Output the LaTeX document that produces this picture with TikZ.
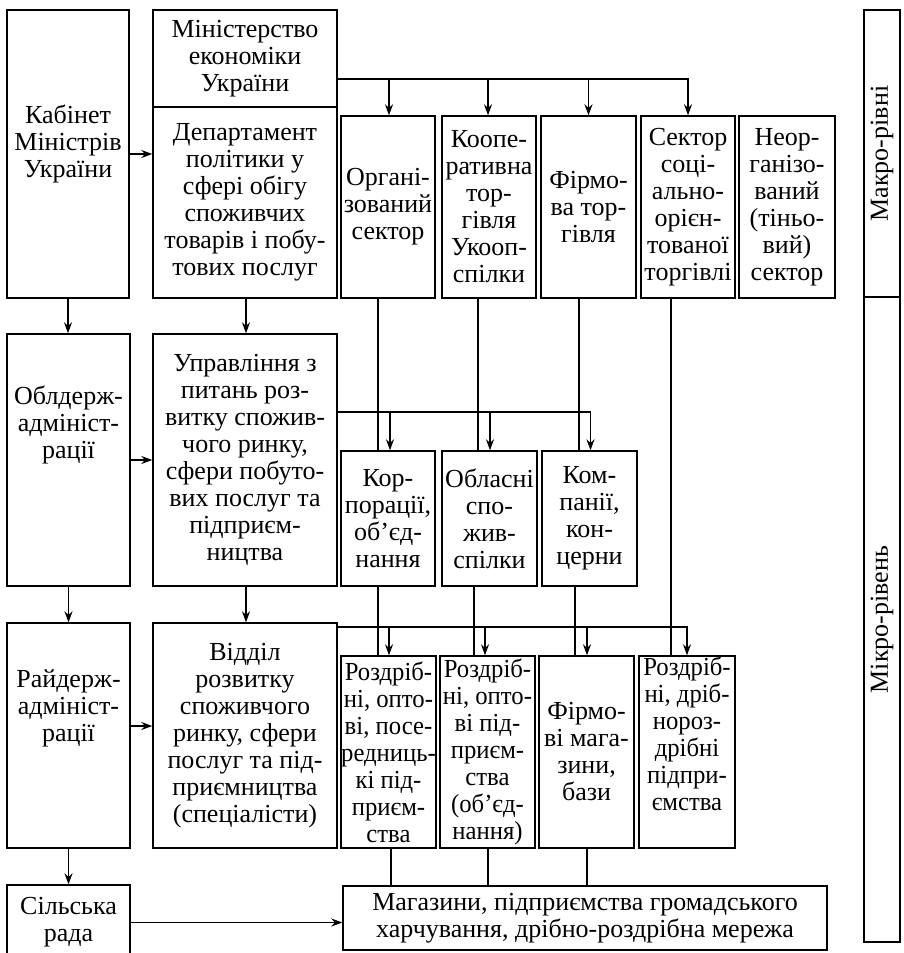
\documentclass[tikz,border=0pt]{standalone}
\usepackage{fontspec}
\setmainfont{Liberation Serif}
\newfontfamily\narrowserif[FakeStretch=0.95]{Liberation Serif}
\usetikzlibrary{arrows.meta,calc}
\tikzset{
  box/.style={draw, line width=1.4pt, align=center, inner sep=0pt,
    font=\fontsize{26}{27}\selectfont},
  narrow/.style={font=\fontsize{26}{27}\selectfont\narrowserif},
  conn/.style={line width=1.3pt},
  arr/.style={conn, -{Stealth[length=11pt,width=8pt]}},
}
\newcommand\mybox[7][]{\node[box, minimum width=#5pt, minimum height=#6pt, #1] (#2) at (#3,#4) {#7};}
\begin{document}
\begin{tikzpicture}[x=1pt,y=-1pt]
\useasboundingbox (0,0) rectangle (903,953);
\clip (0,0) rectangle (903,953);
% left column
\mybox{kab}{68}{154}{122}{288}{Кабінет\\Міністрів\\України\\[-1pt]\mbox{}}
\mybox{obl}{68.5}{460}{123}{252}{Облдерж-\\адмініст-\\рації\\[48pt]\mbox{}}
\mybox{ray}{68.5}{735.5}{123}{225}{Райдерж-\\адмініст-\\рації\\[33pt]\mbox{}}
\mybox{sil}{68.5}{922.5}{123}{75}{Сільська\\рада}
% second column
\mybox{min}{245}{58.5}{184}{97}{Міністерство\\економіки\\України}
\mybox{dep}{245}{202.5}{184}{191}{Департамент\\політики у\\сфері обігу\\споживчих\\товарів і побу-\\тових послуг}
\mybox{upr}{245}{460}{184}{252}{Управління з\\питань роз-\\витку спожив-\\чого ринку,\\сфери побуто-\\вих послуг та\\підприєм-\\ництва}
\mybox{vid}{245}{735.5}{184}{225}{Відділ\\розвитку\\споживчого\\ринку, сфери\\послуг та під-\\приємництва\\(спеціалісти)}
% top row
\mybox{org}{388}{207}{94}{182}{Органі-\\зований\\сектор}
\mybox{koop}{489}{207}{94}{182}{Коопе-\\ративна\\тор-\\гівля\\Укооп-\\спілки}
\mybox{firm}{588.5}{207}{95}{182}{Фірмо-\\ва тор-\\гівля}
\mybox{soc}{688}{207}{94}{182}{Сектор\\соці-\\ально-\\орієн-\\тованої\\торгівлі}
\mybox{neorg}{787}{207}{96}{182}{Неор-\\ганізо-\\ваний\\(тіньо-\\вий)\\сектор}
% middle row
\mybox{korp}{388}{518.5}{94}{135}{Кор-\\порації,\\об’єд-\\нання}
\mybox{oblsp}{489.5}{518.5}{95}{135}{Обласні\\спо-\\жив-\\спілки}
\mybox{komp}{589.5}{518.5}{95}{135}{Ком-\\панії,\\кон-\\церни}
% bottom row
\mybox[narrow]{ra}{388.5}{752}{95}{192}{Роздріб-\\ні, опто-\\ві, посе-\\редниць-\\кі під-\\приєм-\\ства}
\mybox[narrow]{rb}{487.5}{752}{95}{192}{Роздріб-\\ні, опто-\\ві під-\\приєм-\\ства\\(об’єд-\\нання)}
\mybox{rc}{586.5}{752}{95}{192}{Фірмо-\\ві мага-\\зини,\\бази}
\mybox[narrow]{rd}{687}{752}{96}{192}{Роздріб-\\ні, дріб-\\нороз-\\дрібні\\підпри-\\ємства\\[9pt]\mbox{}}
\mybox{mag}{585}{918}{484}{64}{Магазини, підприємства громадського\\харчування, дрібно-роздрібна мережа}
% right levels
\node[box, rotate=90, minimum width=287pt, minimum height=36pt] (macro) at (882,153.5) {Макро-рівні};
\node[box, rotate=90, minimum width=645pt, minimum height=36pt] (micro) at (882,619.5) {Мікро-рівень};
% connectors, left part
\draw[arr] (kab.east) -- (kab.east -| dep.west);
\draw[arr] (obl.east) -- (obl.east -| upr.west);
\draw[arr] ($(ray.east)+(0,-9.5)$) coordinate (p7) -- (p7 -| vid.west);
\draw[arr] (sil.east) -- (sil.east -| mag.west);
\draw[arr] (kab.south) -- (kab.south |- obl.north);
\draw[arr] (obl.south) -- (obl.south |- ray.north);
\draw[arr] (ray.south) -- (ray.south |- sil.north);
\draw[arr] ([xshift=1pt]dep.south) -- ([xshift=1pt]dep.south |- upr.north);
\draw[arr] ([xshift=1pt]upr.south) -- ([xshift=1pt]upr.south |- vid.north);
% bus from ministry
\coordinate (b1) at (688,79);
\draw[arr] (min.east |- b1) -| (soc.north);
\draw[arr] ([xshift=1pt]org.north |- b1) -- ([xshift=1pt]org.north);
\draw[arr] ([xshift=-1pt]koop.north |- b1) -- ([xshift=-1pt]koop.north);
\draw[arr] (firm.north |- b1) -- (firm.north);
% bus from upravlinnya
\coordinate (b2) at (590.5,412);
\draw[arr] (upr.east |- b2) -| ([xshift=1pt]komp.north);
\draw[arr] ([xshift=2pt]korp.north |- b2) -- ([xshift=2pt]korp.north);
\draw[arr] ([xshift=0.5pt]oblsp.north |- b2) -- ([xshift=0.5pt]oblsp.north);
% bus from viddil
\coordinate (b3) at (687,627);
\draw[arr] (vid.east |- b3) -| (rd.north);
\draw[arr] ([xshift=0.5pt]ra.north |- b3) -- ([xshift=0.5pt]ra.north);
\draw[arr] ([xshift=-2.5pt]rb.north |- b3) -- ([xshift=-2.5pt]rb.north);
\draw[arr] ([xshift=0.5pt]rc.north |- b3) -- ([xshift=0.5pt]rc.north);
% pass-through lines
\draw[conn] ([xshift=-10pt]org.south) -- ([xshift=-10pt]org.south |- korp.north);
\draw[conn] ([xshift=-10pt]korp.south) -- ([xshift=-10pt]korp.south |- ra.north);
\draw[conn] ([xshift=-11pt]koop.south) -- ([xshift=-11pt]koop.south |- oblsp.north);
\draw[conn] ([xshift=-15.5pt]oblsp.south) -- ([xshift=-15.5pt]oblsp.south |- rb.north);
\draw[conn] ([xshift=-9.5pt]firm.south) -- ([xshift=-9.5pt]firm.south |- komp.north);
\draw[conn] ([xshift=-14.5pt]komp.south) -- ([xshift=-14.5pt]komp.south |- rc.north);
\draw[conn] ([xshift=-17pt]soc.south) -- ([xshift=-17pt]soc.south |- rd.north);
% into shops
\draw[conn] ([xshift=2.5pt]ra.south) -- ([xshift=2.5pt]ra.south |- mag.north);
\draw[conn] ([xshift=0.5pt]rb.south) -- ([xshift=0.5pt]rb.south |- mag.north);
\draw[conn] ([xshift=0.5pt]rc.south) -- ([xshift=0.5pt]rc.south |- mag.north);
\end{tikzpicture}
\end{document}
